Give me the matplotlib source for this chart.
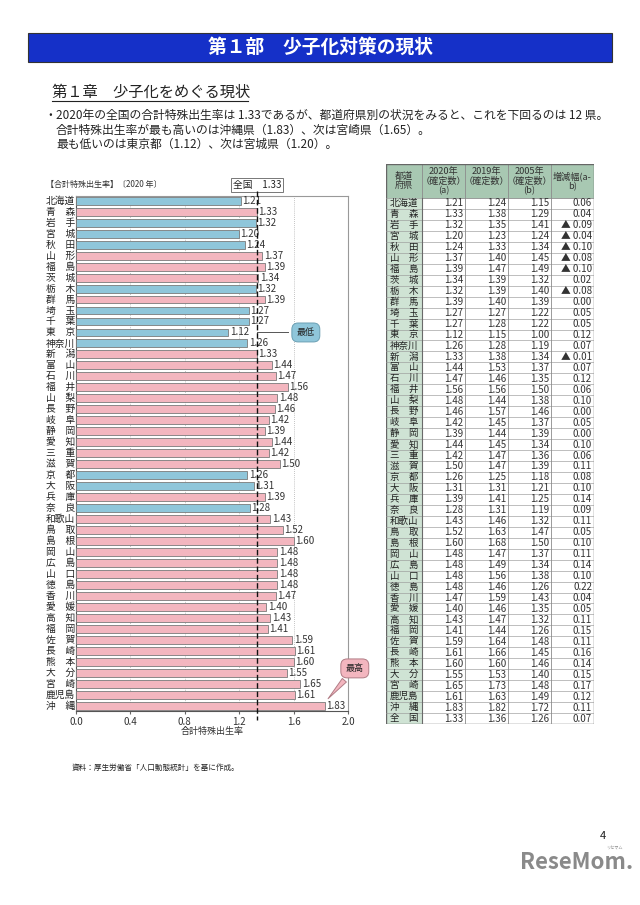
import numpy as np
import matplotlib
matplotlib.use('Agg')
import matplotlib.pyplot as plt
from matplotlib.patches import Rectangle
from matplotlib.lines import Line2D

plt.rcParams['font.family'] = ['Noto Sans CJK JP', 'DejaVu Sans']

# prefectures, top to bottom
prefs = ['北海道', '青　森', '岩　手', '宮　城', '秋　田', '山　形', '福　島', '茨　城',
         '栃　木', '群　馬', '埼　玉', '千　葉', '東　京', '神奈川', '新　潟', '富　山',
         '石　川', '福　井', '山　梨', '長　野', '岐　阜', '静　岡', '愛　知', '三　重',
         '滋　賀', '京　都', '大　阪', '兵　庫', '奈　良', '和歌山', '鳥　取', '島　根',
         '岡　山', '広　島', '山　口', '徳　島', '香　川', '愛　媛', '高　知', '福　岡',
         '佐　賀', '長　崎', '熊　本', '大　分', '宮　崎', '鹿児島', '沖　縄']

rate_2020 = [1.21, 1.33, 1.32, 1.20, 1.24, 1.37, 1.39, 1.34, 1.32, 1.39, 1.27, 1.27,
             1.12, 1.26, 1.33, 1.44, 1.47, 1.56, 1.48, 1.46, 1.42, 1.39, 1.44, 1.42,
             1.50, 1.26, 1.31, 1.39, 1.28, 1.43, 1.52, 1.60, 1.48, 1.48, 1.48, 1.48,
             1.47, 1.40, 1.43, 1.41, 1.59, 1.61, 1.60, 1.55, 1.65, 1.61, 1.83]
rate_2019 = [1.24, 1.38, 1.35, 1.23, 1.33, 1.40, 1.47, 1.39, 1.39, 1.40, 1.27, 1.28,
             1.15, 1.28, 1.38, 1.53, 1.46, 1.56, 1.44, 1.57, 1.45, 1.44, 1.45, 1.47,
             1.47, 1.25, 1.31, 1.41, 1.31, 1.46, 1.63, 1.68, 1.47, 1.49, 1.56, 1.46,
             1.59, 1.46, 1.47, 1.44, 1.64, 1.66, 1.60, 1.53, 1.73, 1.63, 1.82]
rate_2005 = [1.15, 1.29, 1.41, 1.24, 1.34, 1.45, 1.49, 1.32, 1.40, 1.39, 1.22, 1.22,
             1.00, 1.19, 1.34, 1.37, 1.35, 1.50, 1.38, 1.46, 1.37, 1.39, 1.34, 1.36,
             1.39, 1.18, 1.21, 1.25, 1.19, 1.32, 1.47, 1.50, 1.37, 1.34, 1.38, 1.26,
             1.43, 1.35, 1.32, 1.26, 1.48, 1.45, 1.46, 1.40, 1.48, 1.49, 1.72]

national_name = '全　国'
national = [1.33, 1.36, 1.26]   # 2020, 2019, 2005

x_ticks = [0.0, 0.4, 0.8, 1.2, 1.6, 2.0]

BLUE = '#8fc6da'
PINK = '#f3b6bf'
HEAD = '#a8c8b2'
NAMEC = '#cfe3d4'

fig = plt.figure(figsize=(6.4, 9.05), dpi=100)
fig.patch.set_facecolor('white')

# page layer in pixel coords
page = fig.add_axes([0, 0, 1, 1])
page.set_xlim(0, 640)
page.set_ylim(905, 0)
page.axis('off')

page.add_patch(Rectangle((28, 33), 584, 29, facecolor='#1530c8', edgecolor='#333333', lw=0.8))
page.text(320, 47.5, '第１部　少子化対策の現状', color='white', fontsize=13.5,
          fontweight='bold', ha='center', va='center')

page.text(52, 92, '第１章　少子化をめぐる現状', fontsize=11, ha='left', va='center', color='#222222')
page.add_line(Line2D([52, 248], [101, 101], color='#222222', lw=0.8))

page.text(44, 115, '・', fontsize=8.5, ha='left', va='center', color='#222222')
page.text(56, 115, '2020年の全国の合計特殊出生率は 1.33であるが、都道府県別の状況をみると、これを下回るのは 12 県。',
          fontsize=8.5, ha='left', va='center', color='#222222')
page.text(56, 130, '合計特殊出生率が最も高いのは沖縄県（1.83）、次は宮崎県（1.65）。',
          fontsize=8.5, ha='left', va='center', color='#222222')
page.text(56, 144, '最も低いのは東京都（1.12）、次は宮城県（1.20）。',
          fontsize=8.5, ha='left', va='center', color='#222222')

page.text(46, 184, '【合計特殊出生率】〔2020 年〕', fontsize=5.8, ha='left', va='center', color='#333333')

page.text(72, 768, '資料：厚生労働省「人口動態統計」を基に作成。', fontsize=5.5, ha='left', va='center', color='#222222')
page.text(603, 836, '4', fontsize=8, ha='center', va='center', color='#222222')
page.text(577, 862, 'ReseMom.', fontsize=16, fontweight='bold', ha='center', va='center', color='#8a8a8a')
page.text(614, 848, 'リセマム', fontsize=3, ha='center', va='center', color='#8a8a8a')

# bar chart
ax = fig.add_axes([76 / 640, 1 - 711 / 905, 272 / 640, 515 / 905])
y = np.arange(len(prefs))
colors = [BLUE if v < national[0] else PINK for v in rate_2020]
ax.barh(y, rate_2020, height=0.72, color=colors, edgecolor='#7a7a7a', linewidth=0.6, zorder=3)
ax.set_xlim(0, 2.0)
ax.set_ylim(len(prefs) - 0.52, -0.43)
ax.set_xticks(x_ticks)
ax.set_xticklabels([f'{t:.1f}' for t in x_ticks], fontsize=7, color='#333333')
ax.tick_params(axis='x', length=2, pad=2, color='#666666')
ax.set_yticks([])
for t in x_ticks[1:-1]:
    ax.axvline(t, color='#b0b0b0', lw=0.6, ls=(0, (1, 1.5)), zorder=1)
for s in ['top', 'right']:
    ax.spines[s].set_color('#999999')
    ax.spines[s].set_linewidth(0.8)
for s in ['left', 'bottom']:
    ax.spines[s].set_color('#555555')
    ax.spines[s].set_linewidth(0.8)
ax.set_xlabel('合計特殊出生率', fontsize=6.5, labelpad=0, color='#333333')

for i, (name, v) in enumerate(zip(prefs, rate_2020)):
    ax.text(-0.11, i, name, transform=ax.get_yaxis_transform(), ha='left', va='center',
            fontsize=7, color='#222222')
    ax.text(v + 0.01, i, f'{v:.2f}', ha='left', va='center', fontsize=7, color='#333333', zorder=4)

# national line and label
ax.plot([national[0], national[0]], [-0.88, len(prefs) + 0.3], color='#111111', lw=1.0,
        ls=(0, (4, 2)), clip_on=False, zorder=5)
ax.text(national[0], -1.43, f'全国　{national[0]:.2f}', ha='center', va='center', fontsize=7,
        color='#222222', clip_on=False,
        bbox=dict(boxstyle='square,pad=0.2', fc='white', ec='#777777', lw=0.7))

# lowest / highest callouts
i_low = int(np.argmin(rate_2020))
i_high = int(np.argmax(rate_2020))
ax.plot([national[0], 1.56], [i_low, i_low], color='#555555', lw=0.7, zorder=5)
ax.text(1.69, i_low, '最低', ha='center', va='center', fontsize=6.5, color='#222222', zorder=6,
        bbox=dict(boxstyle='round,pad=0.55,rounding_size=0.7', fc=BLUE, ec='#6a9fb3', lw=0.7))
ax.annotate('最高', xy=(rate_2020[i_high] + 0.01, i_high - 0.45), xytext=(2.05, i_high - 3.4),
            ha='center', va='center', fontsize=6.5, color='#222222', annotation_clip=False,
            bbox=dict(boxstyle='round,pad=0.55,rounding_size=0.7', fc=PINK, ec='#b07c85', lw=0.7),
            arrowprops=dict(arrowstyle='wedge,tail_width=0.6,shrink_factor=0.5', fc=PINK,
                            ec='#b07c85', lw=0.7), zorder=6)

# table
tab = fig.add_axes([386 / 640, 1 - 724 / 905, 208 / 640, 560 / 905])
W, H = 208, 560
tab.set_xlim(0, W)
tab.set_ylim(H, 0)
tab.axis('off')
col_edges = [0, 36, 79, 122, 165, 208]
head_h = 34
names_all = prefs + [national_name]
a_all = rate_2020 + [national[0]]
b19_all = rate_2019 + [national[1]]
b05_all = rate_2005 + [national[2]]
n_rows = len(names_all)
row_h = (H - head_h) / n_rows

headers = ['都道\n府県', '2020年\n（確定数）\n(a)', '2019年\n（確定数）', '2005年\n（確定数）\n(b)', '増減幅(a-\nb)']
for c in range(5):
    x0, x1 = col_edges[c], col_edges[c + 1]
    tab.add_patch(Rectangle((x0, 0), x1 - x0, head_h, fc=HEAD, ec='#888888', lw=0.5))
    yy = head_h / 2 if c != 2 else head_h / 2 - 5
    tab.text((x0 + x1) / 2, yy, headers[c], ha='center', va='center', fontsize=6.6,
             linespacing=1.1, color='#333333')
tab.add_patch(Rectangle((0, head_h), col_edges[1], n_rows * row_h, fc=NAMEC, ec='none'))

for r in range(n_rows):
    yc = head_h + (r + 0.5) * row_h
    tab.text(col_edges[1] / 2, yc, names_all[r], ha='center', va='center', fontsize=6.8, color='#222222')
    d = round(a_all[r] - b05_all[r], 2)
    diff = f'{d:.2f}' if d >= 0 else f'▲ {abs(d):.2f}'
    vals = [f'{a_all[r]:.2f}', f'{b19_all[r]:.2f}', f'{b05_all[r]:.2f}', diff]
    for c, s in enumerate(vals):
        tab.text(col_edges[c + 2] - 2, yc, s, ha='right', va='center', fontsize=7, color='#333333')
    tab.plot([0, W], [head_h + r * row_h] * 2, color='#9a9a9a', lw=0.45)

for xe in col_edges[1:-1]:
    tab.plot([xe, xe], [head_h, H], color='#8a8a8a', lw=0.6)
tab.plot([col_edges[1]] * 2, [head_h, H], color='#6a6a6a', lw=0.8)
tab.add_patch(Rectangle((0, 0), W, H, fc='none', ec='#666666', lw=1.0))

fig.savefig('out.png', dpi=100, facecolor='white')
